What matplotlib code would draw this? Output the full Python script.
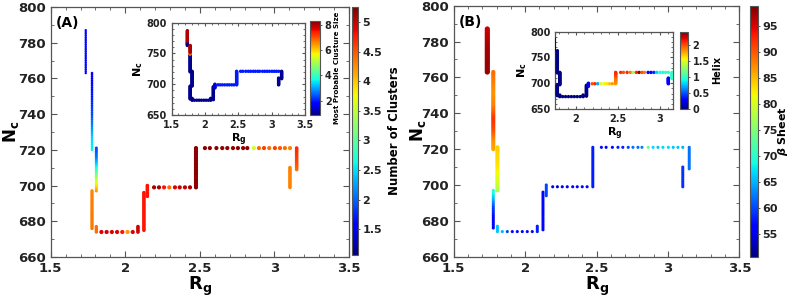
import numpy as np
import matplotlib
matplotlib.use("Agg")
import matplotlib.pyplot as plt
from matplotlib.ticker import MultipleLocator, FormatStrFormatter

# ---------------- data ----------------
# vertical runs of the trajectory (Rg, Nc from bottom to top), in path order
vert_rg = [1.735, 1.777, 1.806, 1.777, 1.806, 2.085, 2.125, 2.148, 2.474, 3.149, 3.104]
vert_nc_bot = [763, 720, 697, 676, 674, 674, 675, 694, 699, 709, 699]
vert_nc_top = [787, 763, 721, 697, 677, 677, 696, 700, 721, 721, 710]

# horizontal runs of the trajectory
row_nc = [674, 699, 721]
row674_rg = [1.84, 1.875, 1.91, 1.945, 1.98, 2.015, 2.05]
row699_rg = [2.193, 2.226, 2.26, 2.295, 2.333, 2.365, 2.40, 2.434]
row721_rg = [2.534, 2.567, 2.611, 2.650, 2.684, 2.722, 2.755, 2.79, 2.818, 2.862,
             2.896, 2.93, 2.965, 3.003, 3.037, 3.07, 3.104]

# colour values: vertical runs given as (Nc knots, values); rows one value per dot
clusters_vert = [
    ([763, 787], [1.6, 1.55]),
    ([720, 726, 732, 740, 750, 763], [2.6, 2.5, 2.2, 1.9, 1.7, 1.55]),
    ([697, 700, 703, 707, 712, 716, 721], [4.2, 3.9, 3.6, 3.1, 2.5, 2.1, 1.9]),
    ([676, 697], [4.35, 4.3]),
    ([674, 677], [4.4, 4.4]),
    ([674, 677], [4.95, 4.95]),
    ([675, 696], [4.8, 4.8]),
    ([694, 700], [4.8, 4.8]),
    ([699, 721], [5.2, 5.2]),
    ([709, 715, 721], [4.4, 4.6, 4.7]),
    ([699, 710], [4.3, 4.3]),
]
clusters_row674 = [4.9, 4.95, 4.9, 4.9, 4.8, 4.2, 4.9]
clusters_row699 = [5.1, 5.1, 4.8, 4.4, 4.9, 5.0, 5.0, 5.1]
clusters_row721 = [5.2, 5.2, 5.2, 5.2, 5.2, 5.2, 5.2, 5.2, 5.2, 3.6,
                   4.4, 4.6, 4.4, 4.6, 4.5, 4.4, 4.3]

sheet_vert = [
    ([763, 775, 787], [98, 97.5, 96]),
    ([720, 725, 732, 738, 745, 752, 763], [86, 87, 91, 92, 88, 87, 89]),
    ([697, 700, 705, 712, 721], [77, 79, 81, 83, 84]),
    ([676, 683, 688, 693, 697], [57, 57, 60, 66, 70]),
    ([674, 677], [66, 66]),
    ([674, 677], [58, 58]),
    ([675, 696], [57, 57]),
    ([694, 700], [60, 60]),
    ([699, 721], [58, 58]),
    ([709, 721], [62, 62]),
    ([699, 710], [59, 59]),
]
sheet_row674 = [65, 60, 57, 57, 57, 57, 57]
sheet_row699 = [55, 54, 55, 56, 56, 57, 57, 57]
sheet_row721 = [57, 57, 57, 58, 58, 60, 62, 62, 63, 74, 67, 66, 67, 67, 66, 66, 65]

size_vert = [
    ([763, 769, 770, 787], [1, 1, 8, 8]),
    ([720, 748, 749, 751, 752, 763], [1, 1, 6.5, 7, 8, 8]),
    ([697, 721], [1, 1]),
    ([676, 697], [1, 1]),
    ([674, 677], [1, 1]),
    ([674, 677], [1, 1]),
    ([675, 696], [1, 1]),
    ([694, 700], [1.5, 1.5]),
    ([699, 721], [2, 2]),
    ([709, 721], [1, 1]),
    ([699, 710], [1, 1]),
]
size_row674 = [1, 1, 1, 1, 1, 1, 1]
size_row699 = [2, 2, 2, 2, 2, 2, 2, 2]
size_row721 = [2] * 17

helix_vert = [
    ([763, 787], [0, 0]),
    ([720, 763], [0, 0]),
    ([697, 721], [0, 0]),
    ([676, 697], [0, 0]),
    ([674, 677], [0, 0]),
    ([674, 677], [0, 0]),
    ([675, 696], [0, 0]),
    ([694, 700], [0.3, 0.3]),
    ([699, 710, 721], [1.8, 1.9, 2.1]),
    ([709, 721], [1.0, 1.0]),
    ([699, 710], [0.3, 0.3]),
]
helix_row674 = [0, 0, 0, 0, 0, 0, 0]
helix_row699 = [2.0, 2.1, 0.7, 1.5, 1.55, 1.6, 1.7, 1.8]
helix_row721 = [2.1, 2.0, 2.1, 1.9, 1.3, 2.1, 2.4, 2.0, 1.9, 0.3,
                0.3, 0.4, 0.8, 0.9, 0.9, 1.0, 1.0]

# ---------------- build trajectory ----------------
def build(vert_vals, r674, r699, r721):
    rg, nc, val, seg = [], [], [], []
    rows = {674: (row674_rg, r674), 699: (row699_rg, r699), 721: (row721_rg, r721)}
    order = [('v', 0), ('v', 1), ('v', 2), ('v', 3), ('v', 4), ('r', 674), ('v', 5),
             ('v', 6), ('v', 7), ('r', 699), ('v', 8), ('r', 721), ('v', 9), ('v', 10)]
    for kind, k in order:
        if kind == 'v':
            n = np.arange(vert_nc_bot[k], vert_nc_top[k] + 1)
            kn, kv = vert_vals[k]
            rg.extend([vert_rg[k]] * len(n))
            nc.extend(n)
            val.extend(np.interp(n, kn, kv))
            seg.extend([k] * len(n))
        else:
            xs, vs = rows[k]
            rg.extend(xs)
            nc.extend([k] * len(xs))
            val.extend(vs)
            seg.extend([-1] * len(xs))
    return np.array(rg), np.array(nc), np.array(val), np.array(seg)

# ---------------- figure ----------------
plt.rcParams['font.family'] = ['DejaVu Sans']
plt.rcParams['font.weight'] = 'bold'
plt.rcParams['mathtext.default'] = 'bf'

fig = plt.figure(figsize=(7.92, 2.99), dpi=100)
spine_col = '#555555'


def style_axes(ax, fs, major_len, minor_len):
    for s in ax.spines.values():
        s.set_color(spine_col)
        s.set_linewidth(0.9)
    ax.tick_params(which='both', direction='in', top=True, right=True,
                   labelsize=fs, colors=spine_col, labelcolor='#222222')
    ax.tick_params(which='major', length=major_len, width=0.8)
    ax.tick_params(which='minor', length=minor_len, width=0.6)
    for lab in ax.get_xticklabels() + ax.get_yticklabels():
        lab.set_fontweight('bold')


def style_cbar(cb, fs, tlen=1.5, pad=1.5):
    cb.outline.set_edgecolor(spine_col)
    cb.outline.set_linewidth(0.8)
    cb.ax.tick_params(labelsize=fs, length=tlen, width=0.7, colors=spine_col,
                      labelcolor='#222222', pad=pad)
    for lab in cb.ax.get_yticklabels():
        lab.set_fontweight('bold')


def main_panel(rect, crect, vals, clim, cticks, clabel, tag, sizes, cbfmt,
               ylab_x, clab_x, clab_fs):
    ax = fig.add_axes(rect)
    rg, nc, c, seg = build(*vals)
    s = np.array([sizes.get(k, sizes['row']) if k >= 0 else sizes['row'] for k in seg])
    sc = ax.scatter(rg, nc, c=c, s=s, cmap='jet', vmin=clim[0], vmax=clim[1],
                    linewidths=0, zorder=3)
    ax.set_xlim(1.5, 3.5)
    ax.set_ylim(660, 800)
    ax.xaxis.set_major_locator(MultipleLocator(0.5))
    ax.xaxis.set_minor_locator(MultipleLocator(0.1))
    ax.yaxis.set_major_locator(MultipleLocator(20))
    ax.yaxis.set_minor_locator(MultipleLocator(10))
    ax.xaxis.set_major_formatter(FormatStrFormatter('%g'))
    ax.set_xlabel('$R_g$', fontsize=13, labelpad=0)
    ax.set_ylabel('$N_c$', fontsize=12)
    ax.yaxis.set_label_coords(ylab_x, 0.5)
    style_axes(ax, 9.5, 4, 2)
    ax.text(0.018, 0.935, tag, transform=ax.transAxes, fontsize=10,
            fontweight='bold', va='center', ha='left')
    cax = fig.add_axes(crect)
    cb = fig.colorbar(sc, cax=cax, ticks=cticks, format=cbfmt)
    style_cbar(cb, 8)
    cb.set_label(clabel, fontsize=clab_fs, fontweight='bold')
    cb.ax.yaxis.set_label_coords(clab_x, 0.5)
    return ax


def inset_panel(rect, crect, vals, clim, cticks, clabel, xlim, xticks, cfs, cbfmt):
    ax = fig.add_axes(rect)
    rg, nc, c, seg = build(*vals)
    sc = ax.scatter(rg, nc, c=c, s=6, cmap='jet', vmin=clim[0], vmax=clim[1],
                    linewidths=0, zorder=3)
    ax.set_xlim(*xlim)
    ax.set_ylim(650, 800)
    ax.set_xticks(xticks)
    ax.xaxis.set_minor_locator(MultipleLocator(0.1))
    ax.yaxis.set_major_locator(MultipleLocator(50))
    ax.yaxis.set_minor_locator(MultipleLocator(10))
    ax.xaxis.set_major_formatter(FormatStrFormatter('%g'))
    ax.set_xlabel('$R_g$', fontsize=8, labelpad=1)
    ax.set_ylabel('$N_c$', fontsize=8, labelpad=1)
    style_axes(ax, 7, 2.5, 1.2)
    cax = fig.add_axes(crect)
    cb = fig.colorbar(sc, cax=cax, ticks=cticks, format=cbfmt)
    style_cbar(cb, 7, 1.5, 2)
    cb.set_label(clabel, fontsize=cfs, fontweight='bold', labelpad=2)
    return ax


main_panel([0.064, 0.1405, 0.3767, 0.836], [0.4448, 0.147, 0.0076, 0.8306],
           (clusters_vert, clusters_row674, clusters_row699, clusters_row721),
           (1.065, 5.26), [1.5, 2, 2.5, 3, 3.5, 4, 4.5, 5], 'Number of Clusters', '(A)',
           {0: 3, 1: 3.5, 2: 5, 3: 6, 4: 6, 5: 7, 6: 7, 7: 7, 8: 9, 9: 7, 10: 7, 'row': 9},
           '%g', -0.1, 5.9, 8.5)
inset_panel([0.2168, 0.6154, 0.1683, 0.3087], [0.3914, 0.6154, 0.0126, 0.3154],
            (size_vert, size_row674, size_row699, size_row721),
            (0.9, 8.3), [2, 4, 6, 8], 'Most Probable Clusture Size',
            (1.5, 3.5), [1.5, 2, 2.5, 3, 3.5], 5, '%g')

main_panel([0.5729, 0.1415, 0.3606, 0.8395], [0.9473, 0.1395, 0.0101, 0.8415],
           (sheet_vert, sheet_row674, sheet_row699, sheet_row721),
           (50.6, 99.0), [55, 60, 65, 70, 75, 80, 85, 90, 95], r'$\mathit{\beta}$ Sheet', '(B)',
           {0: 14, 1: 9, 2: 9, 'row': 5},
           '%g', -0.09, 3.25, 8)
inset_panel([0.7011, 0.6355, 0.149, 0.2585], [0.8586, 0.6355, 0.0097, 0.2585],
            (helix_vert, helix_row674, helix_row699, helix_row721),
            (0.0, 2.42), [0, 0.5, 1, 1.5, 2], 'Helix',
            (1.752, 3.163), [2, 2.5, 3], 7, '%g')

fig.savefig('out.png', dpi=100)
